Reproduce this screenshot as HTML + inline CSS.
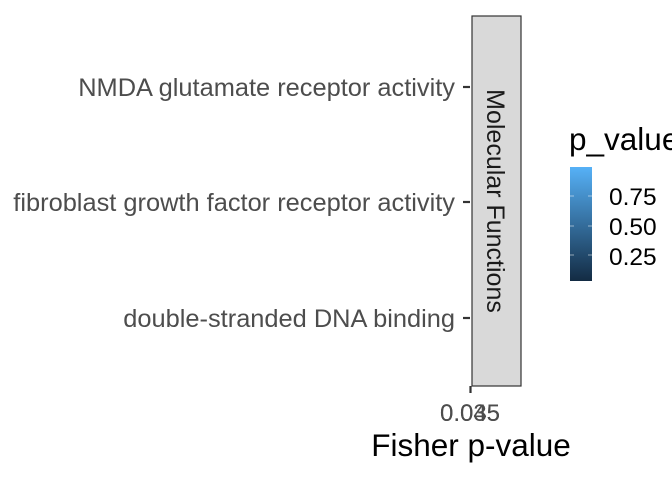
<!DOCTYPE html>
<html><head><meta charset="utf-8"><style>body{margin:0;background:#fff}</style></head><body>
<svg width="672" height="480" xmlns="http://www.w3.org/2000/svg" font-family="Liberation Sans, sans-serif">
<defs><linearGradient id="g" x1="0" y1="1" x2="0" y2="0"><stop offset="0" stop-color="#132b43"/><stop offset="1" stop-color="#56b1f7"/></linearGradient></defs>
<rect x="472" y="16" width="49" height="370" fill="#d9d9d9" stroke="#333" stroke-width="1.2"/>
<text transform="translate(487,201) rotate(90)" text-anchor="middle" font-size="25" fill="#1a1a1a">Molecular Functions</text>
<g stroke="#333" stroke-width="2.2">
<line x1="463" y1="87" x2="470" y2="87"/><line x1="463" y1="202" x2="470" y2="202"/><line x1="463" y1="318" x2="470" y2="318"/>
<line x1="470.5" y1="386" x2="470.5" y2="393"/></g>
<g font-size="25.4" fill="#4d4d4d" text-anchor="end">
<text x="455" y="96">NMDA glutamate receptor activity</text>
<text x="455" y="211">fibroblast growth factor receptor activity</text>
<text x="455" y="327">double-stranded DNA binding</text></g>
<g font-size="24" fill="#4d4d4d" text-anchor="middle"><text x="470" y="421">0.035</text><text x="470" y="421">0.045</text></g>
<text x="471" y="456" font-size="31.5" text-anchor="middle" fill="#000">Fisher p-value</text>
<text x="569" y="150" font-size="31.5" fill="#000">p_value</text>
<rect x="570" y="167" width="22" height="114" fill="url(#g)"/>
<g stroke="#fff" stroke-opacity="0.5" stroke-width="1"><line x1="570" y1="196" x2="574" y2="196"/><line x1="588" y1="196" x2="592" y2="196"/><line x1="570" y1="226" x2="574" y2="226"/><line x1="588" y1="226" x2="592" y2="226"/><line x1="570" y1="255" x2="574" y2="255"/><line x1="588" y1="255" x2="592" y2="255"/></g>
<g font-size="24.5" fill="#000"><text x="609" y="205">0.75</text><text x="609" y="235">0.50</text><text x="609" y="265">0.25</text></g>
</svg>
</body></html>
